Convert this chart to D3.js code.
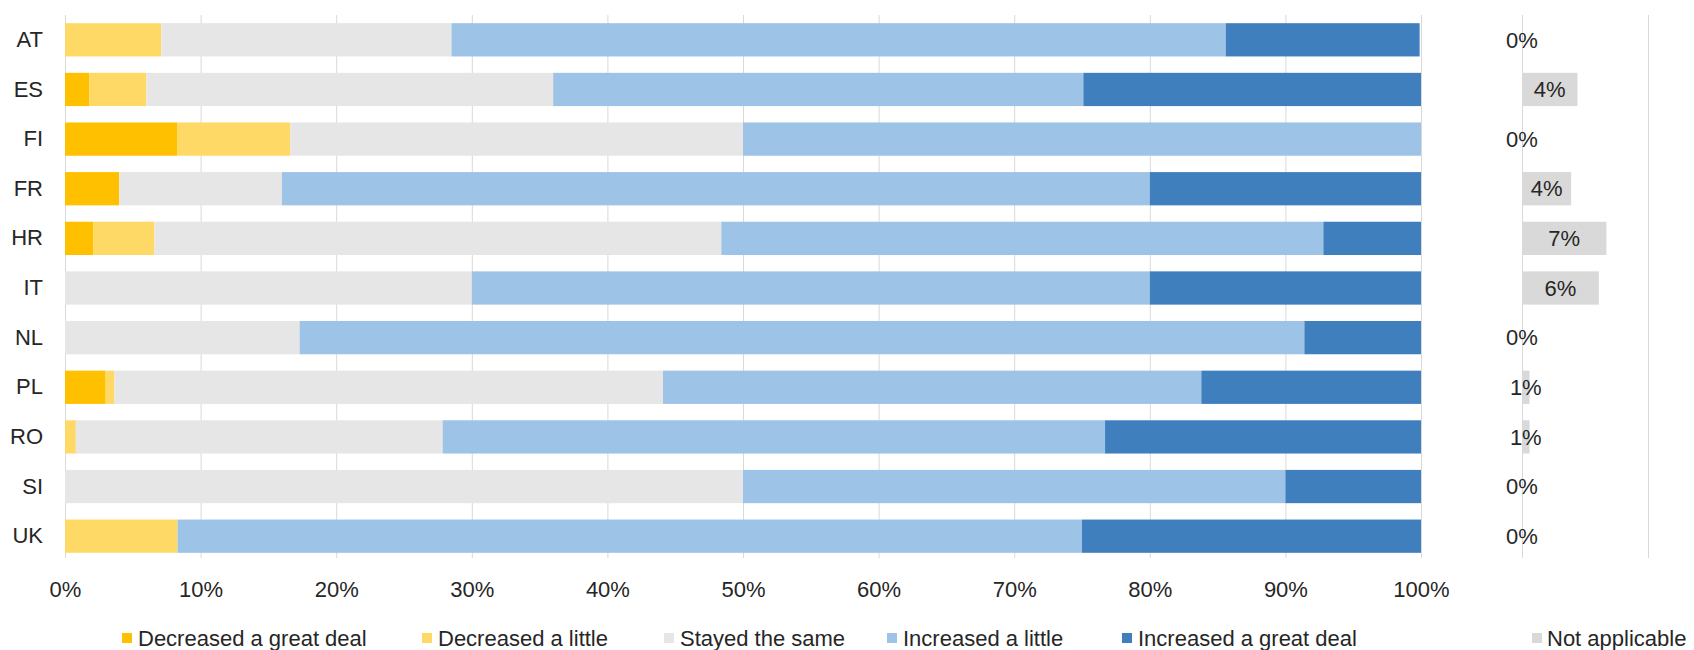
<!DOCTYPE html>
<html>
<head>
<meta charset="utf-8">
<script src="https://cdn.jsdelivr.net/npm/d3@7"></script>
<style>
  body { margin: 0; background: #fff; }
  svg { display: block; font-family: "Liberation Sans", Arial, sans-serif; }
  .grid line { stroke: #d9d9d9; stroke-width: 1; }
  .grid path { display: none; }
  .lbl text { fill: #262626; font-size: 22px; }
  .lbl path, .lbl line { display: none; }
</style>
</head>
<body>
<svg id="chart" width="1694" height="650"></svg>
<script>
// data (percent of answers)
var countries = ["AT", "ES", "FI", "FR", "HR", "IT", "NL", "PL", "RO", "SI", "UK"];
var seriesNames = ["Decreased a great deal", "Decreased a little", "Stayed the same", "Increased a little", "Increased a great deal"];
var decGreat  = [0,    1.8,  8.3,  4.0,  2.1,  0,    0,    3.0,   0,     0,  0];
var decLittle = [7.1,  4.2,  8.3,  0,    4.5,  0,    0,    0.65,  0.8,   0,  8.3];
var stayed    = [21.4, 30.0, 33.4, 12.0, 41.8, 30.0, 17.3, 40.45, 27.05, 50, 0];
var incLittle = [57.1, 39.1, 50.0, 64.0, 44.4, 50.0, 74.1, 39.7,  48.85, 40, 66.7];
var incGreat  = [14.3, 24.9, 0,    20.0, 7.2,  20.0, 8.6,  16.2,  23.3,  10, 25.0];
var notApplicable = [0, 4.4, 0, 3.9, 6.7, 6.1, 0, 0.6, 0.6, 0, 0];
var naName = "Not applicable";
var xTicks = [0, 10, 20, 30, 40, 50, 60, 70, 80, 90, 100];

var colors = ["#ffc000", "#ffd966", "#e7e6e6", "#9dc3e6", "#3f7fbe"];
var naColor = "#d9d9d9";

var svg = d3.select("#chart");
var plotTop = 15, plotBottom = 561, gridBottom = 558;

// build rows for the stack
var rows = countries.map(function(c, i) {
    return {
        country: c,
        s0: decGreat[i], s1: decLittle[i], s2: stayed[i], s3: incLittle[i], s4: incGreat[i],
        na: notApplicable[i]
    };
});
var keys = ["s0", "s1", "s2", "s3", "s4"];
var stack = d3.stack().keys(keys)(rows);

var x = d3.scaleLinear().domain([0, 100]).range([65, 1421]);
var y = d3.scaleBand().domain(countries).range([plotTop, plotBottom]).paddingInner(0.33).paddingOuter(0.165);
var xNa = d3.scaleLinear().domain([0, 10]).range([1522, 1648]);

// gridlines main panel
svg.append("g")
    .attr("class", "grid")
    .attr("transform", "translate(0," + gridBottom + ")")
    .call(d3.axisBottom(x).tickValues(xTicks).tickSize(-(gridBottom - plotTop)).tickFormat(""));

// gridlines right panel
svg.append("g")
    .attr("class", "grid")
    .attr("transform", "translate(0," + gridBottom + ")")
    .call(d3.axisBottom(xNa).tickValues([0, 10]).tickSize(-(gridBottom - plotTop)).tickFormat(""));

// stacked bars
svg.append("g").selectAll("g")
    .data(stack)
    .join("g")
    .attr("fill", function(d, i) { return colors[i]; })
    .selectAll("rect")
    .data(function(d) { return d; })
    .join("rect")
    .attr("x", function(d) { return x(d[0]); })
    .attr("y", function(d) { return y(d.data.country); })
    .attr("width", function(d) { return x(d[1]) - x(d[0]); })
    .attr("height", y.bandwidth());

// not applicable bars
svg.append("g").selectAll("rect")
    .data(rows)
    .join("rect")
    .attr("fill", naColor)
    .attr("x", xNa(0))
    .attr("y", function(d) { return y(d.country); })
    .attr("width", function(d) { return xNa(d.na) - xNa(0); })
    .attr("height", y.bandwidth());

svg.append("g").selectAll("text")
    .data(rows)
    .join("text")
    .attr("x", function(d) { return (xNa(0) + xNa(d.na)) / 2; })
    .attr("y", function(d) { return y(d.country) + y.bandwidth() / 2; })
    .attr("dy", "0.35em")
    .attr("text-anchor", "middle")
    .attr("fill", "#262626")
    .style("font-size", "22px")
    .text(function(d) { return Math.round(d.na) + "%"; });

// category labels
svg.append("g")
    .attr("class", "lbl")
    .attr("transform", "translate(45,0)")
    .call(d3.axisLeft(y).tickSize(0).tickPadding(2));

// x tick labels
svg.append("g")
    .attr("class", "lbl")
    .attr("transform", "translate(0,577)")
    .call(d3.axisBottom(x).tickValues(xTicks).tickSize(0).tickPadding(4)
        .tickFormat(function(d) { return d + "%"; }));

// legend
var legendX = [122, 422, 664, 887, 1122];
var legendY = 638;
var lg = svg.append("g").selectAll("g")
    .data(seriesNames)
    .join("g")
    .attr("transform", function(d, i) { return "translate(" + legendX[i] + "," + legendY + ")"; });
lg.append("rect")
    .attr("x", 0).attr("y", -5).attr("width", 10).attr("height", 10)
    .attr("fill", function(d, i) { return colors[i]; });
lg.append("text")
    .attr("x", 16).attr("dy", "0.35em")
    .attr("fill", "#262626")
    .style("font-size", "22px")
    .text(function(d) { return d; });

var na = svg.append("g").attr("transform", "translate(1532," + legendY + ")");
na.append("rect").attr("x", 0).attr("y", -5).attr("width", 10).attr("height", 10).attr("fill", naColor);
na.append("text").attr("x", 15).attr("dy", "0.35em").attr("fill", "#262626")
    .style("font-size", "22px").text(naName);
</script>
</body>
</html>
